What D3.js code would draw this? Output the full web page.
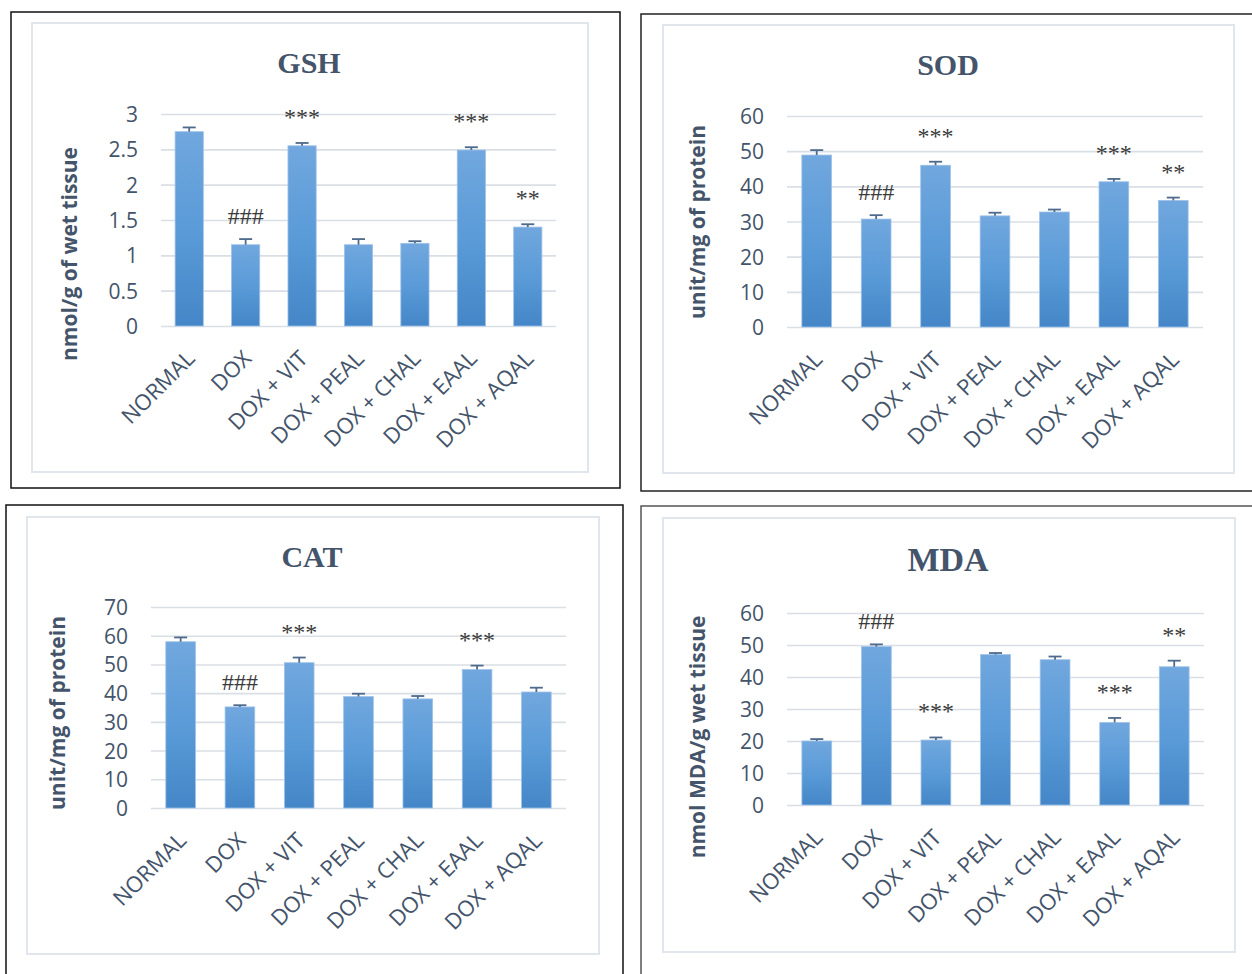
<!DOCTYPE html>
<html>
<head>
<meta charset="utf-8">
<script src="https://cdn.jsdelivr.net/npm/d3@7/dist/d3.min.js"></script>
<style>
  html, body { margin: 0; padding: 0; background: #ffffff; }
  svg { display: block; }
</style>
</head>
<body>
<svg id="chart" width="1252" height="974"></svg>
<script>
// ---------- DATA ----------
const categories = ["NORMAL", "DOX", "DOX + VIT", "DOX + PEAL", "DOX + CHAL", "DOX + EAAL", "DOX + AQAL"];

const gshMean = [2.75, 1.15, 2.55, 1.15, 1.17, 2.49, 1.40];
const gshErr  = [0.06, 0.08, 0.04, 0.08, 0.03, 0.04, 0.04];
const gshSig  = ["", "###", "***", "", "", "***", "**"];
const gshTicks = [0, 0.5, 1, 1.5, 2, 2.5, 3];

const sodMean = [48.9, 30.7, 46.0, 31.6, 32.7, 41.3, 36.0];
const sodErr  = [1.4, 1.1, 1.0, 0.9, 0.7, 0.8, 0.8];
const sodSig  = ["", "###", "***", "", "", "***", "**"];
const sodTicks = [0, 10, 20, 30, 40, 50, 60];

const catMean = [57.9, 35.2, 50.6, 38.8, 38.0, 48.2, 40.4];
const catErr  = [1.5, 0.6, 1.8, 1.0, 1.0, 1.4, 1.5];
const catSig  = ["", "###", "***", "", "", "***", ""];
const catTicks = [0, 10, 20, 30, 40, 50, 60, 70];

const mdaMean = [20.0, 49.5, 20.3, 47.0, 45.4, 25.8, 43.2];
const mdaErr  = [0.6, 0.7, 0.8, 0.5, 1.0, 1.4, 1.9];
const mdaSig  = ["", "###", "***", "", "", "***", "**"];
const mdaTicks = [0, 10, 20, 30, 40, 50, 60];

// ---------- LAYOUT ----------
const panels = [
  { title: "GSH", yLabel: "nmol/g of wet tissue", mean: gshMean, err: gshErr, sig: gshSig, ticks: gshTicks,
    outer: [11, 12, 620, 488], outerColor: "#111", inner: [32, 23, 588, 472],
    px: [161, 556], py: [326, 114], titleX: 309, titleY: 73, titleSize: 30, ylx: 70, yly: 254 },
  { title: "SOD", yLabel: "unit/mg of protein", mean: sodMean, err: sodErr, sig: sodSig, ticks: sodTicks,
    outer: [641, 14, 1262, 491], outerColor: "#222", inner: [663, 25, 1234, 473],
    px: [787, 1203], py: [327, 116], titleX: 948, titleY: 75, titleSize: 30, ylx: 698, yly: 222 },
  { title: "CAT", yLabel: "unit/mg of protein", mean: catMean, err: catErr, sig: catSig, ticks: catTicks,
    outer: [6, 505, 623, 990], outerColor: "#111", inner: [27, 517, 599, 954],
    px: [151, 566], py: [808, 607], titleX: 312, titleY: 567, titleSize: 30, ylx: 58, yly: 713 },
  { title: "MDA", yLabel: "nmol MDA/g wet tissue", mean: mdaMean, err: mdaErr, sig: mdaSig, ticks: mdaTicks,
    outer: [641, 506, 1262, 990], outerColor: "#555", inner: [663, 518, 1235, 952],
    px: [787, 1204], py: [805, 613], titleX: 948, titleY: 571, titleSize: 34, ylx: 698, yly: 737 }
];

const svg = d3.select("#chart");
const defs = svg.append("defs");
const grad = defs.append("linearGradient").attr("id", "barGrad")
  .attr("x1", 0).attr("y1", 0).attr("x2", 0).attr("y2", 1);
grad.append("stop").attr("offset", "0%").attr("stop-color", "#71a7de");
grad.append("stop").attr("offset", "50%").attr("stop-color", "#5a9bd8");
grad.append("stop").attr("offset", "100%").attr("stop-color", "#4486c7");

const textColor = "#44546a";
const sans = "'Open Sans', 'Noto Sans', sans-serif";
const serif = "'Liberation Serif', 'Times New Roman', serif";

panels.forEach(p => {
  const g = svg.append("g");

  // frames
  g.append("rect")
    .attr("x", p.outer[0]).attr("y", p.outer[1])
    .attr("width", p.outer[2] - p.outer[0]).attr("height", p.outer[3] - p.outer[1])
    .attr("fill", "#fff").attr("stroke", p.outerColor).attr("stroke-width", 1.5);
  g.append("rect")
    .attr("x", p.inner[0]).attr("y", p.inner[1])
    .attr("width", p.inner[2] - p.inner[0]).attr("height", p.inner[3] - p.inner[1])
    .attr("fill", "#fff").attr("stroke", "#e1e6ed").attr("stroke-width", 2);

  const maxTick = p.ticks[p.ticks.length - 1];
  const x = d3.scaleBand().domain(categories).range(p.px).paddingInner(0.5).paddingOuter(0.25);
  const y = d3.scaleLinear().domain([0, maxTick]).range(p.py);

  // gridlines
  const grid = d3.axisLeft(y).tickValues(p.ticks).tickSize(-(p.px[1] - p.px[0])).tickFormat("");
  const gg = g.append("g").attr("transform", `translate(${p.px[0]},0)`).call(grid);
  gg.select(".domain").remove();
  gg.selectAll(".tick line").attr("stroke", "#dadfe6").attr("stroke-width", 1.6);

  // y tick labels
  const yAxis = d3.axisLeft(y).tickValues(p.ticks).tickSize(0).tickPadding(0).tickFormat(d3.format("~g"));
  const ya = g.append("g").attr("transform", `translate(${p.px[0] - 23},0)`).call(yAxis);
  ya.select(".domain").remove();
  ya.selectAll("text").attr("fill", textColor).attr("font-family", sans).attr("font-size", 21)
    .attr("dy", "0.36em");

  // x axis labels
  const xAxis = d3.axisBottom(x).tickSize(0).tickPadding(0);
  const xa = g.append("g").attr("transform", `translate(0,${p.py[0]})`).call(xAxis);
  xa.select(".domain").remove();
  xa.selectAll("text")
    .attr("fill", textColor).attr("font-family", sans).attr("font-size", 22)
    .attr("text-anchor", "end").attr("dy", null).attr("y", null)
    .attr("transform", "translate(7,34) rotate(-45)");

  // bars
  g.selectAll(".bar").data(p.mean).join("rect")
    .attr("x", (d, i) => x(categories[i]))
    .attr("y", d => y(d))
    .attr("width", x.bandwidth())
    .attr("height", d => y(0) - y(d))
    .attr("fill", "url(#barGrad)")
    .attr("stroke", "#9ec2e8").attr("stroke-width", 0.8);

  // error bars
  const cx = i => x(categories[i]) + x.bandwidth() / 2;
  const eb = g.append("g").attr("stroke", "#4e6a8c").attr("stroke-width", 1.8);
  p.mean.forEach((m, i) => {
    const top = y(m + p.err[i]);
    eb.append("line").attr("x1", cx(i)).attr("x2", cx(i)).attr("y1", y(m)).attr("y2", top);
    eb.append("line").attr("x1", cx(i) - 6.5).attr("x2", cx(i) + 6.5).attr("y1", top).attr("y2", top);
  });

  // significance marks
  p.sig.forEach((s, i) => {
    if (!s) return;
    const off = s.startsWith("#") ? 15 : 18;
    g.append("text")
      .attr("x", cx(i)).attr("y", y(p.mean[i] + p.err[i]) - off)
      .attr("text-anchor", "middle").attr("font-family", serif).attr("font-size", 24)
      .attr("fill", "#3a3a3a").text(s);
  });

  // title
  g.append("text").attr("x", p.titleX).attr("y", p.titleY)
    .attr("text-anchor", "middle").attr("font-family", serif).attr("font-weight", "bold")
    .attr("font-size", p.titleSize).attr("fill", textColor).text(p.title);

  // y-axis title
  g.append("text")
    .attr("transform", `translate(${p.ylx},${p.yly}) rotate(-90)`)
    .attr("text-anchor", "middle").attr("dy", "0.35em")
    .attr("font-family", sans).attr("font-weight", "bold").attr("font-size", 21)
    .attr("fill", textColor).text(p.yLabel);
});
</script>
</body>
</html>
